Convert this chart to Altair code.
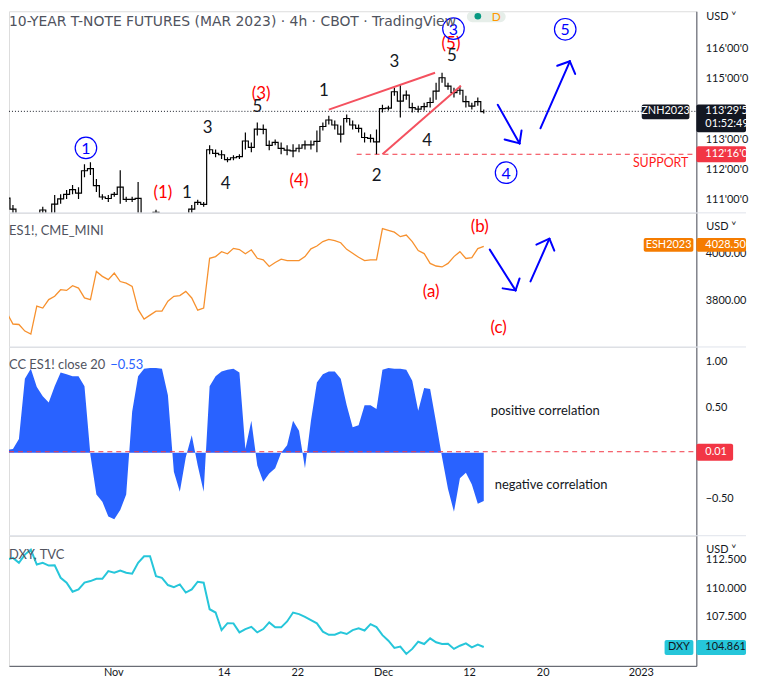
import json
import altair as alt
import pandas as pd

FONT = "Lato"
TXT = "#131722"
GRAY = "#50535e"
RED = "#f23645"
WAVE_RED = "#ff0000"
BLUE = "#0000ff"
AREA_BLUE = "#2962ff"
ORANGE = "#f7912e"
ORANGE_TAG = "#f57c00"
CYAN = "#26c6da"

W = 692
H1, H2, H3, H4 = 203, 135, 190, 131
RIGHT_EDGE = 742

X_DOMAIN = [-8.502, 47.53]
P_DOMAIN = [110.559, 117.237]
ES_DOMAIN = [3601.2, 4172.2]
CC_DOMAIN = [-0.912, 1.160]
DXY_DOMAIN = [103.206, 114.617]

# sample positions in trading days (0 = 1 Nov)
T_START = -9.15
T_STEP = 0.4858

PRICE_LOW = [111.15, 110.92, 110.55, 110.30, 110.30, 110.30, 110.30, 110.55, 110.30, 110.55,
             110.86, 111.02, 111.18, 111.02, 111.74, 111.81, 111.25, 110.99, 110.92, 111.09,
             110.86, 110.92, 110.92, 110.50, 110.30, 110.30, 110.50, 110.30, 110.30, 110.30,
             110.30, 110.30, 110.55, 110.82, 110.76, 112.50, 112.40, 112.34, 112.24, 112.30,
             112.34, 112.66, 112.57, 113.12, 113.16, 112.63, 112.80, 112.50, 112.47, 112.40,
             112.57, 112.66, 112.66, 112.57, 113.29, 113.49, 113.32, 112.89, 113.55, 113.32,
             113.22, 112.89, 112.89, 112.50, 113.88, 113.95, 114.44, 113.72, 114.31, 113.88,
             113.88, 113.95, 114.05, 114.31, 114.87, 114.64, 114.38, 114.47, 114.05, 113.98,
             114.11, 113.85]
PRICE_HIGH = [111.32, 111.18, 110.82, 110.45, 110.45, 110.45, 110.45, 110.76, 110.45, 111.15,
              111.18, 111.32, 111.48, 111.41, 112.17, 112.24, 111.68, 111.18, 111.15, 111.25,
              111.97, 111.09, 111.09, 111.58, 110.45, 110.45, 110.66, 110.45, 110.45, 110.45,
              110.45, 110.45, 110.82, 110.99, 110.92, 112.80, 112.66, 112.63, 112.40, 112.47,
              112.50, 113.22, 112.89, 113.55, 113.49, 112.96, 112.99, 112.89, 112.80, 112.83,
              112.83, 112.96, 112.96, 113.29, 113.55, 113.78, 113.62, 113.45, 113.82, 113.62,
              113.49, 113.22, 113.16, 113.32, 114.14, 114.11, 114.70, 114.80, 114.61, 114.21,
              114.11, 114.21, 114.38, 114.87, 115.20, 114.87, 114.70, 114.77, 114.44, 114.21,
              114.38, 113.98]
ES = [3767, 3746, 3699, 3697, 3669, 3656, 3775, 3767, 3803, 3817,
      3845, 3842, 3862, 3852, 3810, 3803, 3923, 3902, 3888, 3916,
      3880, 3873, 3859, 3761, 3720, 3737, 3754, 3754, 3796, 3817,
      3820, 3838, 3810, 3758, 3767, 3979, 3986, 4007, 3998, 4021,
      4016, 3998, 4015, 3979, 3972, 3944, 3961, 3975, 3969, 3969,
      3969, 3986, 4019, 4031, 4050, 4059, 4054, 4045, 4017, 4000,
      3983, 3969, 3972, 3972, 4105, 4098, 4090, 4071, 4078, 4050,
      4012, 3999, 3957, 3946, 3942, 3957, 3986, 4007, 3978, 3982,
      4020, 4030]
CC = [0.24, 0.03, 0.04, 0.15, 0.81, 0.92, 0.72, 0.62, 0.55, 0.73,
      0.88, 0.86, 0.84, 0.84, 0.73, -0.03, -0.46, -0.54, -0.70, -0.73,
      -0.63, -0.46, 0.45, 0.84, 0.92, 0.93, 0.93, 0.92, 0.63, -0.21,
      -0.43, -0.05, 0.19, -0.14, -0.43, 0.73, 0.84, 0.89, 0.91, 0.92,
      0.88, 0.04, 0.35, -0.14, -0.32, -0.23, -0.17, 0.00, 0.08, 0.35,
      0.24, -0.17, 0.35, 0.77, 0.86, 0.89, 0.89, 0.81, 0.52, 0.28,
      0.30, 0.52, 0.52, 0.48, 0.91, 0.93, 0.92, 0.92, 0.91, 0.79,
      0.46, 0.71, 0.70, 0.33, -0.05, -0.40, -0.65, -0.28, -0.22, -0.35,
      -0.56, -0.53]
DXY = [112.09, 112.53, 112.67, 112.24, 112.96, 113.40, 112.09, 112.24, 112.00, 112.03,
       110.93, 110.50, 109.71, 109.91, 110.50, 110.64, 110.84, 110.84, 111.51, 111.37,
       111.57, 111.37, 111.28, 112.24, 112.81, 112.81, 111.07, 110.93, 110.29, 110.11,
       110.35, 109.63, 109.91, 110.58, 110.50, 108.17, 107.88, 106.34, 106.95, 106.93,
       106.14, 106.43, 106.63, 106.14, 106.43, 107.01, 106.58, 106.58, 107.10, 107.88,
       107.74, 107.50, 107.21, 106.93, 106.20, 105.93, 105.93, 106.14, 106.00, 106.34,
       106.50, 106.30, 106.86, 106.60, 105.90, 105.41, 104.77, 104.90, 104.25, 104.69,
       105.32, 105.12, 105.62, 105.27, 105.12, 105.15, 104.69, 104.97, 105.18, 104.83,
       105.06, 104.86]

TICK_T = [0, 9, 15, 22, 29, 35, 43]
TICK_LABELS = ["Nov", "14", "22", "Dec", "12", "20", "2023"]

# Elliott wave labels on the T-Note panel
WAVE_T = [4.05, 5.99, 7.69, 9.15, 12.06, 11.74, 15.14, 17.17, 21.46, 22.91, 25.59, 27.53, 27.61]
WAVE_V = [111.22, 111.22, 113.36, 111.51, 114.51, 114.08, 111.61, 114.61, 111.78, 115.56, 112.93, 116.15, 115.76]
WAVE_TEXT = ["(1)", "1", "3", "4", "(3)", "5", "(4)", "1", "2", "3", "4", "(5)", "5"]
WAVE_COLOR = [WAVE_RED, TXT, TXT, TXT, WAVE_RED, TXT, WAVE_RED, TXT, TXT, TXT, TXT, WAVE_RED, TXT]
CIRC_T = [-2.23, 27.73, 36.84, 32.02]
CIRC_V = [112.71, 116.66, 116.64, 111.89]
CIRC_TEXT = ["1", "3", "5", "4"]
WEDGE = {"t0": [17.57, 21.94], "v0": [113.98, 112.50], "t1": [26.23, 28.34], "v1": [115.20, 114.77]}
ARROW1 = {"t0": [31.34, 31.90, 33.28, 34.82, 36.19, 37.65],
          "v0": [114.14, 112.99, 113.29, 113.36, 115.43, 115.16],
          "t1": [33.12, 33.12, 33.12, 37.22, 37.22, 37.22],
          "v1": [112.86, 112.86, 112.86, 115.58, 115.58, 115.58]}
SUPPORT = 112.5
LAST_PRICE = 113.922

ES_LAB_T = [29.88, 25.91, 31.42]
ES_LAB_V = [4113, 3834, 3682]
ES_LAB_TEXT = ["(b)", "(a)", "(c)"]
ARROW2 = {"t0": [30.69, 31.74, 33.12, 34.01, 34.49, 35.95],
          "v0": [4015.7, 3850.8, 3893.1, 3880.4, 4036.9, 4011.5],
          "t1": [32.79, 32.79, 32.79, 35.55, 35.55, 35.55],
          "v1": [3842.3, 3842.3, 3842.3, 4062.3, 4062.3, 4062.3]}
ES_LAST = 4028.5
ES_TAG = 4036.0

CC_TEXT_T = [30.77, 31.09]
CC_TEXT_V = [0.462, -0.355]
CC_TEXT = ["positive correlation", "negative correlation"]
CC_LAST = 0.01
DXY_LAST = 104.861

T = [round(T_START + i * T_STEP, 4) for i in range(len(ES))]
series = pd.DataFrame({"t": T, "lo": PRICE_LOW, "hi": PRICE_HIGH, "es": ES, "cc": CC, "dxy": DXY})
series["mid"] = (series["lo"] + series["hi"]) / 2

xs = alt.Scale(domain=X_DOMAIN, nice=False, zero=False)


def xq(f, axis=None):
    return alt.X(f"{f}:Q", scale=xs, axis=axis)


def right_axis(values, fmt=None, expr=None):
    kw = dict(orient="right", values=values, title=None, grid=False, ticks=False, tickSize=0,
              domainColor=GRAY, domainWidth=1, labelColor=TXT, labelFont=FONT, labelFontSize=11,
              labelPadding=9, labelAlign="left", labelBaseline="middle", labelOverlap=False,
              labelFlush=False, labelBound=False)
    if fmt:
        kw["format"] = fmt
    if expr:
        kw["labelExpr"] = expr
    return alt.Axis(**kw)


def make_y(domain, axis):
    sc = alt.Scale(domain=domain, nice=False, zero=False)

    def yq(f):
        return alt.Y(f"{f}:Q", scale=sc, axis=axis)
    return yq


one = pd.DataFrame({"a": [0]})


def ptext(text, x, y, color=GRAY, size=13, align="left", baseline="middle", weight="normal", font=FONT):
    return alt.Chart(one).mark_text(text=text, font=font, fontSize=size, color=color, align=align,
                                    baseline=baseline, fontWeight=weight).encode(x=alt.value(x), y=alt.value(y))


def tag(yq, value, x0, x1, up, down, fill):
    d = pd.DataFrame({"v": [value]})
    return alt.Chart(d).mark_rect(color=fill, yOffset=-up, y2Offset=down, cornerRadius=2).encode(
        x=alt.value(x0), x2=alt.value(x1), y=yq("v"), y2=alt.Y2("v"))


def tagtext(yq, value, text, x, color="white", align="left", dy=0):
    d = pd.DataFrame({"v": [value]})
    return alt.Chart(d).mark_text(text=text, font=FONT, fontSize=11, color=color, align=align,
                                  baseline="middle", dy=dy).encode(x=alt.value(x), y=yq("v"))


def separator():
    return alt.Chart(one).mark_rule(color="#e0e3eb", strokeWidth=1).encode(
        x=alt.value(0), x2=alt.value(RIGHT_EDGE), y=alt.value(0))


base = alt.Chart(series)

# ---------------- Panel 1: T-Note futures ----------------
y1 = make_y(P_DOMAIN, right_axis([111, 112, 113, 115, 116], expr="datum.value + \"'00'0\""))
p1_layers = [
    alt.Chart(pd.DataFrame({"t0": [19.84], "t1": [X_DOMAIN[1]], "v": [SUPPORT]})).mark_rule(
        color=RED, strokeDash=[5, 4], strokeWidth=1).encode(x=xq("t0"), x2="t1:Q", y=y1("v")),
    alt.Chart(pd.DataFrame({"v": [LAST_PRICE]})).mark_rule(color=TXT, strokeDash=[1, 2], strokeWidth=1).encode(
        x=alt.value(0), x2=alt.value(W), y=y1("v")),
    base.mark_rule(color="#000000", strokeWidth=1.2, clip=True).encode(x=xq("t"), y=y1("lo"), y2=alt.Y2("hi")),
    base.mark_line(color="#000000", strokeWidth=1.2, interpolate="step", clip=True).encode(x=xq("t"), y=y1("mid")),
    alt.Chart(pd.DataFrame(WEDGE)).mark_rule(color="#f4515f", strokeWidth=2).encode(
        x=xq("t0"), y=y1("v0"), x2="t1:Q", y2="v1:Q"),
    alt.Chart(pd.DataFrame(ARROW1)).mark_rule(color=BLUE, strokeWidth=2, strokeCap="round").encode(
        x=xq("t0"), y=y1("v0"), x2="t1:Q", y2="v1:Q"),
    alt.Chart(pd.DataFrame({"t": WAVE_T, "v": WAVE_V, "text": WAVE_TEXT, "c": WAVE_COLOR})).mark_text(
        font=FONT, fontSize=17, baseline="middle").encode(
        x=xq("t"), y=y1("v"), text="text:N", color=alt.Color("c:N", scale=None)),
    alt.Chart(pd.DataFrame({"t": CIRC_T, "v": CIRC_V})).mark_point(
        shape="circle", size=470, filled=False, color=BLUE, strokeWidth=1.2, opacity=1).encode(
        x=xq("t"), y=y1("v")),
    alt.Chart(pd.DataFrame({"t": CIRC_T, "v": CIRC_V, "text": CIRC_TEXT})).mark_text(
        font=FONT, fontSize=16, color=BLUE, baseline="middle", dy=1).encode(
        x=xq("t"), y=y1("v"), text="text:N"),
    alt.Chart(pd.DataFrame({"t": [46.88], "v": [112.20]})).mark_text(
        text="SUPPORT", font=FONT, fontSize=12.5, color="#ff1a1a", align="right", baseline="middle").encode(
        x=xq("t"), y=y1("v")),
    ptext("10-YEAR T-NOTE FUTURES (MAR 2023) · 4h · CBOT · TradingView", 0, 11, size=14, font="DejaVu Sans"),
    alt.Chart(one).mark_rect(color="#e6eee9", cornerRadius=7).encode(
        x=alt.value(461), x2=alt.value(500), y=alt.value(0), y2=alt.value(11)),
    alt.Chart(one).mark_point(shape="circle", size=45, filled=True, color="#089981", opacity=1).encode(
        x=alt.value(472), y=alt.value(5)),
    ptext("D", 486, 6, color="#ff9800", size=12),
    tag(y1, LAST_PRICE, 637, 685, 7, 8, TXT),
    tagtext(y1, LAST_PRICE, "ZNH2023", 661, align="center"),
    tag(y1, LAST_PRICE, 692, RIGHT_EDGE, 7, 21, TXT),
    tagtext(y1, LAST_PRICE, "113'29'5", 701),
    tagtext(y1, LAST_PRICE, "01:52:49", 701, dy=13),
    tag(y1, SUPPORT, 692, RIGHT_EDGE, 8, 8, RED),
    tagtext(y1, SUPPORT, "112'16'0", 701),
    ptext("USD ˅", 702, 0, color=TXT, size=11, baseline="top"),
]
p1 = alt.layer(*p1_layers).properties(width=W, height=H1)

# ---------------- Panel 2: ES ----------------
y2 = make_y(ES_DOMAIN, right_axis([3800, 4000], fmt=".2f"))
p2_layers = [
    separator(),
    base.mark_line(color=ORANGE, strokeWidth=1.3, clip=True).encode(x=xq("t"), y=y2("es")),
    alt.Chart(pd.DataFrame({"t": ES_LAB_T, "v": ES_LAB_V, "text": ES_LAB_TEXT})).mark_text(
        font=FONT, fontSize=17, color=WAVE_RED, baseline="middle").encode(x=xq("t"), y=y2("v"), text="text:N"),
    alt.Chart(pd.DataFrame(ARROW2)).mark_rule(color=BLUE, strokeWidth=2, strokeCap="round").encode(
        x=xq("t0"), y=y2("v0"), x2="t1:Q", y2="v1:Q"),
    ptext("ES1!, CME_MINI", 0, 18),
    tag(y2, ES_TAG, 639, 689, 7, 7, ORANGE_TAG),
    tagtext(y2, ES_TAG, "ESH2023", 664, align="center"),
    tag(y2, ES_TAG, 692, RIGHT_EDGE, 7, 7, ORANGE_TAG),
    tagtext(y2, ES_TAG, "4028.50", 701),
    ptext("USD ˅", 702, 14, color=TXT, size=11),
]
p2 = alt.layer(*p2_layers).properties(width=W, height=H2)

# ---------------- Panel 3: correlation ----------------
y3 = make_y(CC_DOMAIN, right_axis([-0.5, 0.5, 1.0], fmt=".2f"))
p3_layers = [
    base.mark_area(color=AREA_BLUE, opacity=1, clip=True).encode(x=xq("t"), y=y3("cc"), y2=alt.datum(0)),
    separator(),
    alt.Chart(pd.DataFrame({"v": [CC_LAST]})).mark_rule(color=RED, strokeDash=[5, 4], strokeWidth=1).encode(
        x=alt.value(0), x2=alt.value(W), y=y3("v")),
    alt.Chart(pd.DataFrame({"t": CC_TEXT_T, "v": CC_TEXT_V, "text": CC_TEXT})).mark_text(
        font=FONT, fontSize=13, color=TXT, align="left", baseline="middle").encode(
        x=xq("t"), y=y3("v"), text="text:N"),
    ptext("CC ES1! close 20", 0, 18),
    ptext("−0.53", 102, 18, color=AREA_BLUE),
    tag(y3, CC_LAST, 692, 729, 8, 9, RED),
    tagtext(y3, CC_LAST, "0.01", 701),
]
p3 = alt.layer(*p3_layers).properties(width=W, height=H3)

# ---------------- Panel 4: DXY ----------------
label_expr = f"{json.dumps(TICK_LABELS)}[indexof({json.dumps(TICK_T)}, datum.value)]"
x_axis = alt.Axis(orient="bottom", values=TICK_T, labelExpr=label_expr, title=None, grid=False,
                  ticks=False, tickSize=0, domainColor=GRAY, labelColor=TXT, labelFont=FONT,
                  labelFontSize=11, labelPadding=1, labelOverlap=False, labelFlush=False,
                  labelBaseline="top")
y4 = make_y(DXY_DOMAIN, right_axis([107.5, 110, 112.5], fmt=".3f"))
p4_layers = [
    separator(),
    base.mark_line(color=CYAN, strokeWidth=2, clip=True).encode(x=xq("t", x_axis), y=y4("dxy")),
    ptext("DXY, TVC", 0, 19),
    tag(y4, DXY_LAST, 660, 689, 7, 8, CYAN),
    tagtext(y4, DXY_LAST, "DXY", 674.5, color=TXT, align="center"),
    tag(y4, DXY_LAST, 692, RIGHT_EDGE, 7, 8, CYAN),
    tagtext(y4, DXY_LAST, "104.861", 701, color=TXT),
    ptext("USD ˅", 702, 14, color=TXT, size=11),
]
p4 = alt.layer(*p4_layers).properties(width=W, height=H4)

chart = alt.vconcat(p1, p2, p3, p4, spacing=0, bounds="flush").properties(
    padding={"left": 0, "top": 0, "right": 0, "bottom": 0}
).configure_view(stroke=None).configure(background="white")

chart.save("out.html", embed_options={"renderer": "svg", "actions": False})
